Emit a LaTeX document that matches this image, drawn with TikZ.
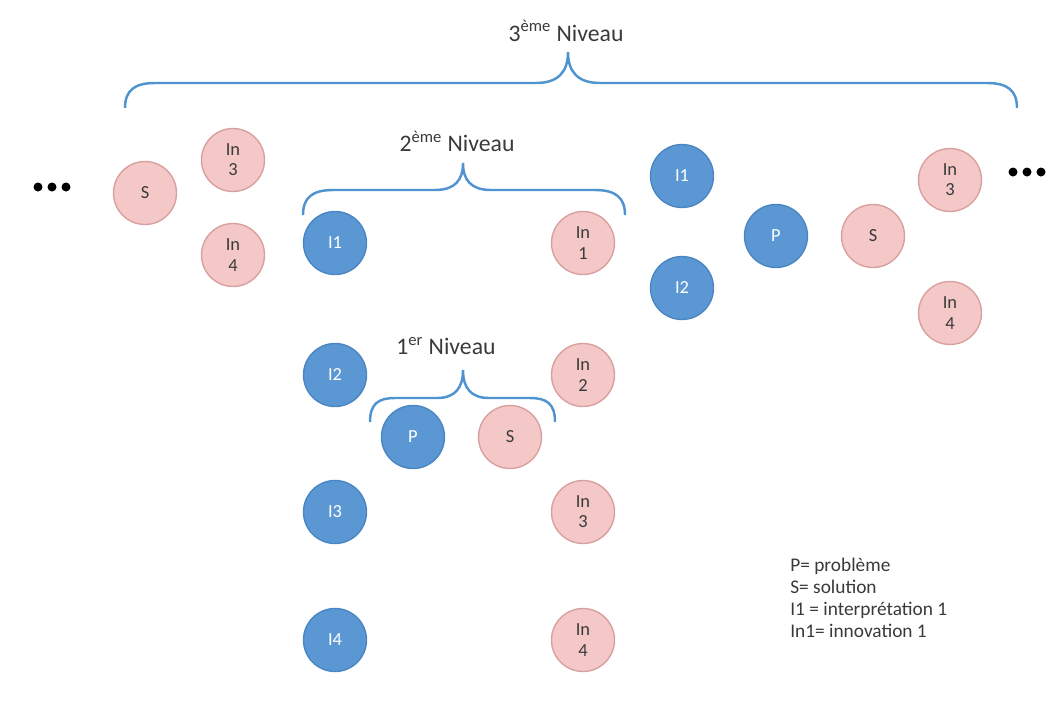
\documentclass[tikz,border=0pt]{standalone}
\usepackage{fontspec}
\setmainfont{Carlito}
\definecolor{bfill}{HTML}{5B97D2}
\definecolor{bdraw}{HTML}{4A86C4}
\definecolor{pfill}{HTML}{F5C8C8}
\definecolor{pdraw}{HTML}{D9A0A0}
\definecolor{brace}{HTML}{4F94D0}
\definecolor{txt}{HTML}{3A3A3A}
\tikzset{
  bcirc/.style={circle, minimum size=1.26cm, inner sep=0pt, fill=bfill, draw=bdraw, line width=0.8pt, text=white, font=\fontsize{10.5}{11.5}\selectfont, align=center},
  pcirc/.style={circle, minimum size=1.26cm, inner sep=0pt, fill=pfill, draw=pdraw, line width=0.8pt, text=txt, font=\fontsize{10.5}{11.5}\selectfont, align=center},
  bracestyle/.style={draw=brace, line width=1.4pt},
  title/.style={text=txt, font=\fontsize{13.5}{15}\selectfont},
  legend/.style={text=txt, font=\fontsize{11}{12.5}\selectfont, align=left, anchor=north west, inner sep=0pt},
  dot/.style={fill=black}
}
\begin{document}
\begin{tikzpicture}[x=0.02cm,y=-0.02cm]
\useasboundingbox (0,0) rectangle (1050,704);
% dots
\foreach \x in {38,52,66} \fill[dot] (\x,187) circle (4.5);
\foreach \x in {1013,1027,1041} \fill[dot] (\x,172) circle (4.5);
% 3rd level
\node[title] (t3) at (566,31) {3\textsuperscript{ème} Niveau};
\draw[bracestyle] (125,108) .. controls (125,90) and (135,83) .. (155,83) -- (536,83) .. controls (558,83) and (568,72) .. (568,52) .. controls (568,72) and (578,83) .. (600,83) -- (987,83) .. controls (1007,83) and (1017,90) .. (1017,108);
\node[pcirc] (S0) at (145,193) {S};
\node[pcirc] (In30) at (233,160) {In\\3};
\node[pcirc] (In40) at (233,255) {In\\4};
% 2nd level
\node[title] (t2) at (457,141) {2\textsuperscript{ème} Niveau};
\draw[bracestyle] (303,215) .. controls (303,197) and (313,190) .. (333,190) -- (435,190) .. controls (455,190) and (463,180) .. (463,163) .. controls (463,180) and (471,190) .. (491,190) -- (595,190) .. controls (615,190) and (625,197) .. (625,215);
\node[bcirc] (I1) at (335,243) {I1};
\node[pcirc] (In1) at (583,243) {In\\1};
\node[bcirc] (I2) at (335,375) {I2};
\node[pcirc] (In2) at (583,375) {In\\2};
\node[bcirc] (I3) at (335,512) {I3};
\node[pcirc] (In3) at (583,512) {In\\3};
\node[bcirc] (I4) at (335,640) {I4};
\node[pcirc] (In4) at (583,640) {In\\4};
% 1st level
\node[title] (t1) at (446,346) {1\textsuperscript{er} Niveau};
\draw[bracestyle] (370,422) .. controls (370,404) and (378,398) .. (395,398) -- (437,398) .. controls (455,398) and (463,388) .. (463,370) .. controls (463,388) and (471,398) .. (489,398) -- (530,398) .. controls (547,398) and (555,404) .. (555,422);
\node[bcirc] (P1) at (413,437) {P};
\node[pcirc] (S1) at (510,437) {S};
% right cluster
\node[bcirc] (I1r) at (682,176) {I1};
\node[bcirc] (I2r) at (682,288) {I2};
\node[bcirc] (Pr) at (776,236) {P};
\node[pcirc] (Sr) at (873,236) {S};
\node[pcirc] (In3r) at (950,180) {In\\3};
\node[pcirc] (In4r) at (950,313) {In\\4};
% legend
\node[legend] (leg) at (790,558) {P= problème\\S= solution\\I1 = interprétation 1\\In1= innovation 1};
\end{tikzpicture}
\end{document}
